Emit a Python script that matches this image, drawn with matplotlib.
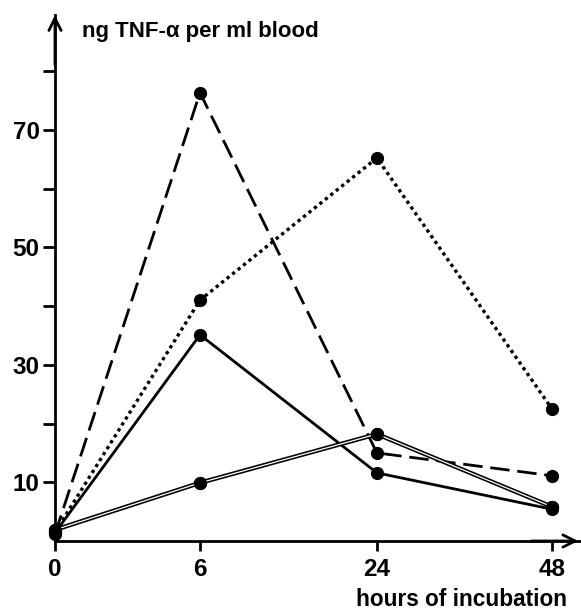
import numpy as np
import matplotlib.pyplot as plt

plt.rcParams['font.family'] = ['Liberation Sans', 'DejaVu Sans']
plt.rcParams['font.weight'] = 'bold'

# hours of incubation (ticks) and where they sit on the axis
hours = ['0', '6', '24', '48']
x_pos = np.array([0, 1, 2.22, 3.43])

# ng TNF-alpha per ml blood
dashed = [1.2, 76.3, 15.0, 11.1]
dotted = [1.5, 41.0, 65.2, 22.4]
solid = [1.4, 35.1, 11.6, 5.4]
double = [1.9, 9.9, 18.2, 5.8]

yticks_major = [10, 30, 50, 70]
yticks_minor = [20, 40, 60, 80]

fig = plt.figure(figsize=(5.81, 6.09), dpi=100)
ax = fig.add_axes([55 / 581, 68 / 609, 526 / 581, 526 / 609])
ax.set_xlim(0, 526 / 145)
ax.set_ylim(0, 526 / 5.875)

ms = 8.5
ax.plot(x_pos, dashed, color='black', lw=2.0, linestyle=(0, (7, 2.8)),
        marker='o', ms=ms, clip_on=False)
ax.plot(x_pos, dotted, color='black', lw=2.4, linestyle=(0, (1, 1.1)),
        marker='o', ms=ms, clip_on=False)
ax.plot(x_pos, solid, color='black', lw=2.0, marker='o', ms=ms, clip_on=False)
# the double line: black with a thin white core
ax.plot(x_pos, double, color='black', lw=3.2, marker='o', ms=ms, clip_on=False)
ax.plot(x_pos, double, color='white', lw=0.9, clip_on=False)
ax.plot(x_pos, double, color='black', lw=0, marker='o', ms=ms, clip_on=False)

for s in ['top', 'right']:
    ax.spines[s].set_visible(False)
ax.spines['left'].set_linewidth(2.0)
ax.spines['bottom'].set_linewidth(2.0)

# arrow heads on the axes
ax.annotate('', xy=(0, 1.005), xytext=(0, 0.9), xycoords='axes fraction',
            arrowprops=dict(arrowstyle='->', lw=2.0, mutation_scale=22))
ax.annotate('', xy=(1.0, 0), xytext=(0.9, 0), xycoords='axes fraction',
            arrowprops=dict(arrowstyle='->', lw=2.0, mutation_scale=22))

ax.set_xticks(x_pos)
ax.set_xticklabels(hours, fontsize=17.5, fontweight='bold')
ax.set_yticks(yticks_major)
ax.set_yticklabels([str(v) for v in yticks_major], fontsize=17.5, fontweight='bold')
ax.set_yticks(yticks_minor, minor=True)
ax.tick_params(axis='y', which='both', length=9, width=2, direction='out', pad=2)
ax.tick_params(axis='x', length=7, width=2, direction='out', pad=5)

fig.text(82 / 581, 1 - 32 / 609, 'ng TNF-α per ml blood', fontsize=16,
         fontweight='bold', va='center', ha='left')
fig.text(567 / 581, 1 - 599 / 609, 'hours of incubation', fontsize=16.3,
         fontweight='bold', va='center', ha='right')

fig.savefig('out.png', dpi=100)
